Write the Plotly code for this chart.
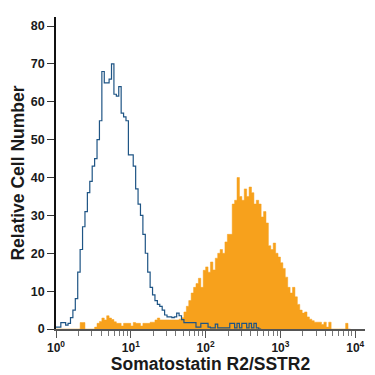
import plotly.graph_objects as go

# Histogram bins: log10-spaced, starting at 10^0
bins_per_decade = 31

# Isotype control (blue outline), counts per bin starting at bin 0
control_counts = [0.5, 0.5, 1.7, 1.7, 1.0, 1.5, 3, 5, 8, 15,
                  21, 27, 31, 36, 39, 43, 45, 50, 55, 68,
                  65, 65, 66, 70, 62, 61.5, 64, 57, 56, 55,
                  46, 46, 43, 37, 33, 30, 25, 20, 15, 11,
                  9, 7.5, 6.5, 6, 5, 3.7, 3.2, 3.2, 3, 3.2,
                  4.2, 3.5, 2.5, 1.7, 1.7, 1.7, 1.7, 1.7, 0.5, 0.5,
                  1.5, 1.5, 1.5, 0.5, 0.3, 0.3, 1.3, 0.3, 0.3, 0.3,
                  0.3, 0.3, 1.5, 1.5, 0.3, 1.5, 0.3, 1.5, 1.5, 0.3,
                  1.5, 0.3, 1.5, 0.3, 0]

# Somatostatin R2/SSTR2 stained (orange filled), counts per bin starting at bin 0
stained_counts = [0, 0, 0, 0, 0, 0, 0, 0, 0, 0,
                  1.7, 1.7, 0, 0, 0, 0, 0.5, 1.5, 2.0, 2.9,
                  2.4, 3.5, 2.9, 2.5, 1.9, 1.5, 1.5, 0.8, 1.5, 1.5,
                  1.5, 0.8, 1.7, 1.5, 1.5, 0.8, 1.5, 1.5, 1.5, 1.8,
                  1.8, 2.4, 2.9, 2.4, 2.4, 2.4, 2.4, 2.4, 2.4, 2.4,
                  2.4, 2.6, 3, 4.5, 6, 7.5, 9.5, 11, 12, 13.4,
                  11, 15.5, 16.4, 15, 17.7, 15.6, 18.7, 20, 21, 20,
                  23, 25, 25, 33, 34, 40, 35, 34, 37, 35,
                  37.5, 36, 33, 34, 33, 29.6, 31, 28, 22, 21,
                  22.7, 20, 19, 17.5, 16, 13.7, 11, 9.5, 11, 8.5,
                  6.5, 5, 4.2, 4.5, 3.2, 2.6, 2.2, 1.8, 1.8, 1.8,
                  1.2, 1.8, 0.5, 1.8, 0, 0, 0, 0, 0, 0,
                  1.5, 0]

y_ticks = [0, 10, 20, 30, 40, 50, 60, 70, 80]
x_tickvals = [1, 10, 100, 1000, 10000]
x_ticktext = ["10<sup>0</sup>", "10<sup>1</sup>", "10<sup>2</sup>", "10<sup>3</sup>", "10<sup>4</sup>"]


def step_xy(counts):
    xs = [10 ** (i / bins_per_decade) for i in range(len(counts) + 1)]
    ys = list(counts) + [counts[-1]]
    return xs, ys


fig = go.Figure()

sx, sy = step_xy(stained_counts)
fig.add_trace(go.Scatter(x=sx, y=sy, mode="lines", line=dict(shape="hv", width=0.5, color="#F7A11C"),
                         fill="tozeroy", fillcolor="#F7A11C", hoverinfo="skip"))

cx, cy = step_xy(control_counts)
fig.add_trace(go.Scatter(x=cx, y=cy, mode="lines", line=dict(shape="hv", width=1.2, color="#1F5585"),
                         hoverinfo="skip"))

font_family = "Liberation Sans, Arial, sans-serif"

# page body has an 8px margin, so the figure is drawn 8px in from the top-left corner
fig.update_layout(
    width=366, height=366,
    margin=dict(l=48, r=9, t=9, b=45, autoexpand=False),
    paper_bgcolor="white", plot_bgcolor="white",
    showlegend=False,
    font=dict(family=font_family, color="#1a1a1a"),
    xaxis=dict(
        type="log", range=[0, 4.13], automargin=False,
        tickvals=x_tickvals, ticktext=x_ticktext,
        ticks="outside", ticklen=7, tickwidth=1, tickcolor="#555555",
        showline=True, linecolor="#555555", linewidth=1.5,
        showgrid=False, zeroline=False,
        tickfont=dict(size=12, family=font_family, color="#1a1a1a", weight="bold"),
        minor=dict(ticks="outside", ticklen=5, tickwidth=1, tickcolor="#777777", dtick="D1", showgrid=False),
        title=dict(text="Somatostatin R2/SSTR2", font=dict(size=17.5, family=font_family, weight="bold", color="#1a1a1a")),
    ),
    yaxis=dict(
        range=[0, 82.4], automargin=False,
        tickvals=y_ticks,
        ticks="outside", ticklen=7, tickwidth=1, tickcolor="#333333",
        showline=True, linecolor="#111111", linewidth=1.5,
        showgrid=False, zeroline=False,
        tickfont=dict(size=12.5, family=font_family, color="#1a1a1a", weight="bold"),
        title=dict(text="Relative Cell Number", standoff=12,
                   font=dict(size=17.5, family=font_family, weight="bold", color="#1a1a1a")),
    ),
)

fig.write_html("out.html")
